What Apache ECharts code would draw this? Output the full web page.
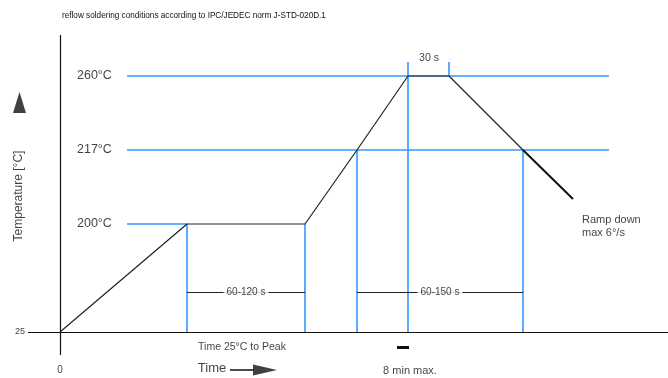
<!DOCTYPE html>
<html>
<head>
<meta charset="utf-8">
<script src="https://cdn.jsdelivr.net/npm/echarts@6/dist/echarts.min.js"></script>
<style>html,body{margin:0;padding:0;background:#fff}#c{width:668px;height:378px}</style>
</head>
<body>
<div id="c"></div>
<script>
// Schematic units: x = schematic time units, y = schematic temperature level (chart is not to scale)
const titleText = 'reflow soldering conditions according to IPC/JEDEC norm J-STD-020D.1';
const tempLabels = ['200°C', '217°C', '260°C'];
const tempLevels = [108, 182, 256];
const profileTime = [0, 127, 245, 297, 348, 389, 463];
const profileLevel = [0, 108, 108, 182, 256, 256, 182];
const rampDownTime = [463, 513];
const rampDownLevel = [182, 133];
const guideStart = 67, guideEnd = 549;
const tempPointTime = [127, 297, 348]; // time where profile reaches 200, 217, 260
const markerTimes = [127, 245, 297, 348, 389, 463];
const markerTops = [108, 108, 182, 270, 270, 182];
const markerBottoms = [0, 0, 0, 0, 256, 0];
const spanLevel = 40;
const spans = [[127, 245, '60-120 s'], [297, 463, '60-150 s']];

const FONT = 'Liberation Sans, Arial, sans-serif';
const BLUE = '#3399ff';

const blueSegs = [];
tempLevels.forEach((lv, i) => {
  const end = i === 0 ? tempPointTime[0] : guideEnd;
  blueSegs.push({ coords: [[guideStart, lv], [end, lv]] });
});
markerTimes.forEach((t, i) => {
  blueSegs.push({ coords: [[t, markerTops[i]], [t, markerBottoms[i]]] });
});

const spanSegs = spans.map(s => ({ coords: [[s[0], spanLevel], [s[1], spanLevel]] }));
const spanLabels = spans.map(s => ({ value: [(s[0] + s[1]) / 2, spanLevel], name: s[2] }));

const axisSegs = [
  { coords: [[-32, 0], [608, 0]] },
  { coords: [[0, -23], [0, 297]] }
];

const tempTexts = tempLabels.map((t, i) => ({
  value: [17, tempLevels[i]], name: t,
  label: { position: 'right', distance: 0, fontSize: 12.5 }
}));

const texts = tempTexts.concat([
  { value: [-40, 0], name: '25', label: { position: 'inside', fontSize: 9 } },
  { value: [0, -38], name: '0', label: { position: 'inside', fontSize: 10 } },
  { value: [369, 274], name: '30 s', label: { position: 'inside', fontSize: 10.5 } },
  { value: [522, 106], name: 'Ramp down\nmax 6°/s', label: { position: 'right', distance: 0, fontSize: 11, lineHeight: 13 } },
  { value: [182, -15], name: 'Time 25°C to Peak', label: { position: 'inside', fontSize: 10.5 } },
  { value: [350, -39], name: '8 min max.', label: { position: 'inside', fontSize: 11 } },
  { value: [152, -36], name: 'Time', label: { position: 'inside', fontSize: 13 } },
  { value: [-41, 136], name: 'Temperature [°C]', label: { position: 'inside', fontSize: 12, rotate: 90 } }
]);

const chart = echarts.init(document.getElementById('c'), null, { renderer: 'canvas' });
chart.setOption({
  animation: false,
  backgroundColor: '#fff',
  title: {
    text: titleText, left: 57, top: 7,
    textStyle: { fontFamily: FONT, fontSize: 8.2, fontWeight: 'normal', color: '#111' }
  },
  grid: { left: 0, right: 0, top: 0, bottom: 0 },
  xAxis: { type: 'value', min: -60, max: 608, show: false },
  yAxis: { type: 'value', min: -46, max: 332, show: false },
  series: [
    {
      type: 'lines', coordinateSystem: 'cartesian2d', z: 1,
      lineStyle: { color: BLUE, width: 1.6, opacity: 1 },
      data: blueSegs
    },
    {
      type: 'lines', coordinateSystem: 'cartesian2d', z: 2,
      lineStyle: { color: '#111', width: 1.2, opacity: 1 },
      data: axisSegs
    },
    {
      type: 'line', z: 3, symbol: 'none',
      lineStyle: { color: '#222', width: 1.2 },
      data: profileTime.map((t, i) => [t, profileLevel[i]])
    },
    {
      type: 'line', z: 3, symbol: 'none',
      lineStyle: { color: '#111', width: 2 },
      data: rampDownTime.map((t, i) => [t, rampDownLevel[i]])
    },
    {
      type: 'lines', coordinateSystem: 'cartesian2d', z: 3,
      lineStyle: { color: '#222', width: 1.2, opacity: 1 },
      data: spanSegs
    },
    {
      type: 'scatter', z: 4, symbolSize: 0,
      label: {
        show: true, position: 'inside', formatter: '{b}',
        fontFamily: FONT, fontSize: 10, color: '#111',
        backgroundColor: '#fff', padding: [1, 3]
      },
      data: spanLabels
    },
    {
      type: 'scatter', z: 4, symbolSize: 0,
      label: { show: true, formatter: '{b}', fontFamily: FONT, color: '#111' },
      data: texts
    },
    {
      type: 'lines', coordinateSystem: 'cartesian2d', z: 4,
      lineStyle: { color: '#111', width: 1.5, opacity: 1 },
      data: [{ coords: [[170, -38], [194, -38]] }]
    },
    {
      type: 'lines', coordinateSystem: 'cartesian2d', z: 4,
      lineStyle: { color: '#111', width: 3, opacity: 1 },
      data: [{ coords: [[337, -15], [349, -15]] }]
    },
    {
      type: 'scatter', z: 5, symbol: 'triangle',
      itemStyle: { color: '#111' },
      data: [
        { value: [205, -38], symbolSize: [11, 24], symbolRotate: -90 },
        { value: [-40.5, 229.5], symbolSize: [13, 21] }
      ]
    }
  ]
});
</script>
</body>
</html>
